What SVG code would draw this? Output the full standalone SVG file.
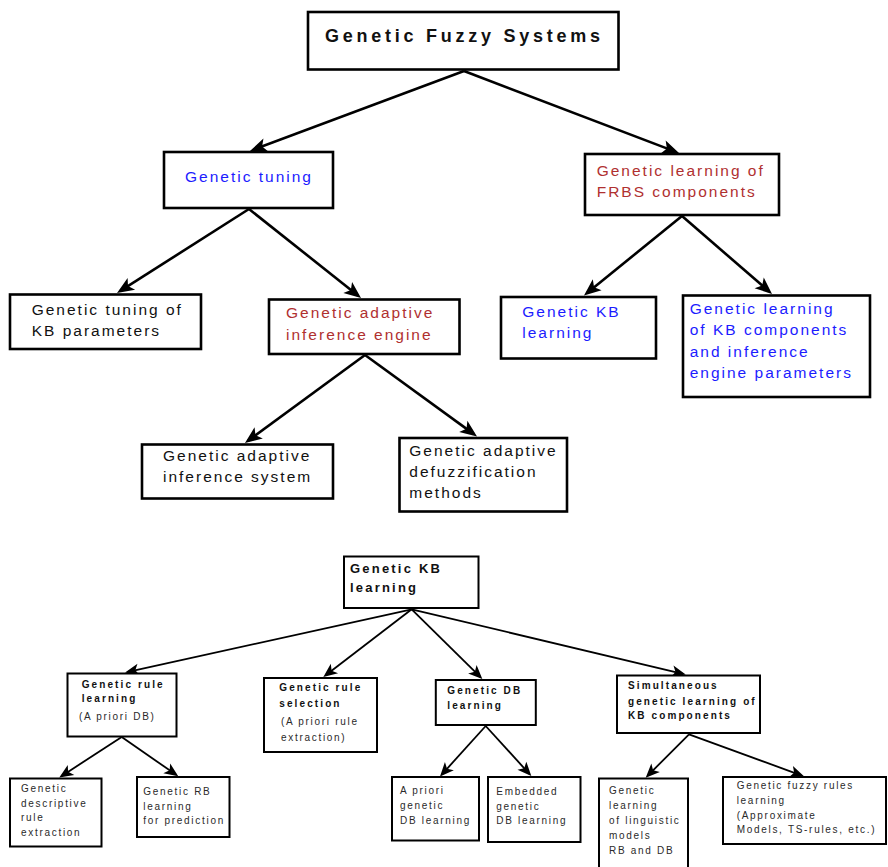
<svg xmlns="http://www.w3.org/2000/svg" width="888" height="867" viewBox="0 0 888 867">
<style>
text{font-family:"Liberation Sans",Arial,sans-serif;}
.bx{fill:#fff;stroke:#000;stroke-width:2.6;}
.bs{fill:#fff;stroke:#000;stroke-width:2;}
.t{font-size:15.5px;letter-spacing:2px;fill:#111;}
.blue{fill:#1c1cff;}
.red{fill:#b03030;}
.title{font-size:18px;font-weight:bold;letter-spacing:3.75px;fill:#111;}
.kb{font-size:13px;font-weight:bold;letter-spacing:2.2px;fill:#111;}
.sb{font-size:10px;font-weight:bold;letter-spacing:2.1px;fill:#111;}
.sn{font-size:10px;letter-spacing:1.7px;fill:#2a2a2a;}
.cb{fill:none;stroke:#000;stroke-width:2.6;marker-end:url(#ab);}
.cs{fill:none;stroke:#000;stroke-width:1.8;marker-end:url(#as);}
</style>
<defs>
<marker id="ab" markerUnits="userSpaceOnUse" viewBox="-16 -9 22 18" markerWidth="22" markerHeight="18" refX="0" refY="0" orient="auto">
<path d="M4,0 L-13,-7 L-9,0 L-13,7 Z" fill="#000"/>
</marker>
<marker id="as" markerUnits="userSpaceOnUse" viewBox="-14 -8 20 16" markerWidth="20" markerHeight="16" refX="0" refY="0" orient="auto">
<path d="M3,0 L-11,-6 L-7.5,0 L-11,6 Z" fill="#000"/>
</marker>
</defs>
<rect width="888" height="867" fill="#fff"/>
<g id="connectors">
<path class="cb" d="M464,71 L253.7,149.6"/>
<path class="cb" d="M464,71 L675.3,151.6"/>
<path class="cb" d="M249,209 L120.4,290.9"/>
<path class="cb" d="M249,209 L357.9,295.5"/>
<path class="cb" d="M365,355 L248.2,440.6"/>
<path class="cb" d="M365,355 L473.8,434.1"/>
<path class="cb" d="M682,216 L587.1,293"/>
<path class="cb" d="M682,216 L769,291.4"/>
<path class="cs" d="M411.7,609.3 L128,671.9"/>
<path class="cs" d="M411.7,609.3 L325.7,675.2"/>
<path class="cs" d="M411.7,609.3 L480.2,676.9"/>
<path class="cs" d="M411.7,609.3 L682.8,673.8"/>
<path class="cs" d="M121.7,737 L61.8,775.9"/>
<path class="cs" d="M121.7,737 L175.8,774.6"/>
<path class="cs" d="M485.7,726 L442,774.3"/>
<path class="cs" d="M485.7,726 L529.3,773.8"/>
<path class="cs" d="M689,734.3 L647.8,775.6"/>
<path class="cs" d="M689,734.3 L801.2,775.3"/>
</g>
<g id="gfs">
<rect class="bx" x="308" y="12" width="310.5" height="57.5"/>
<text class="title" x="325" y="42.3">Genetic Fuzzy Systems</text>
</g>
<g id="tuning">
<rect class="bx" x="164" y="152" width="169" height="56"/>
<text class="t blue" x="185" y="181.7">Genetic tuning</text>
</g>
<g id="frbs">
<rect class="bx" x="585" y="154" width="194" height="61"/>
<text class="t red" x="596.7" y="176">Genetic learning of</text>
<text class="t red" x="596.7" y="197.3">FRBS components</text>
</g>
<g id="tuningkb">
<rect class="bx" x="10" y="294.5" width="191" height="54.5"/>
<text class="t" x="31.7" y="315">Genetic tuning of</text>
<text class="t" x="31.7" y="336.3">KB parameters</text>
</g>
<g id="adaptive">
<rect class="bx" x="269" y="299.5" width="190.5" height="54.5"/>
<text class="t red" x="286" y="318.3">Genetic adaptive</text>
<text class="t red" x="286" y="340">inference engine</text>
</g>
<g id="kblearn">
<rect class="bx" x="501" y="297" width="155" height="61.5"/>
<text class="t blue" x="522.3" y="316.7">Genetic KB</text>
<text class="t blue" x="522.3" y="338.3">learning</text>
</g>
<g id="kbcomp">
<rect class="bx" x="683" y="295.5" width="187" height="101.5"/>
<text class="t blue" x="689.7" y="314">Genetic learning</text>
<text class="t blue" x="689.7" y="335.3">of KB components</text>
<text class="t blue" x="689.7" y="356.7">and inference</text>
<text class="t blue" x="689.7" y="377.7">engine parameters</text>
</g>
<g id="ais">
<rect class="bx" x="142" y="444.5" width="191" height="54"/>
<text class="t" x="163" y="460.7">Genetic adaptive</text>
<text class="t" x="163" y="481.7">inference system</text>
</g>
<g id="defuzz">
<rect class="bx" x="399.5" y="438" width="167.5" height="73.5"/>
<text class="t" x="409.3" y="455.7">Genetic adaptive</text>
<text class="t" x="409.3" y="477">defuzzification</text>
<text class="t" x="409.3" y="498.3">methods</text>
</g>
<g id="kb2">
<rect class="bs" x="344" y="556.5" width="134.5" height="51.5"/>
<text class="kb" x="350" y="573.3">Genetic KB</text>
<text class="kb" x="350" y="592">learning</text>
</g>
<g id="rulelearn">
<rect class="bs" x="67.5" y="673.5" width="109" height="63"/>
<text class="sb" x="81.7" y="688">Genetic rule</text>
<text class="sb" x="81.7" y="702">learning</text>
<text class="sn" x="79" y="720.3">(A priori DB)</text>
</g>
<g id="rulesel">
<rect class="bs" x="264" y="678" width="113" height="74"/>
<text class="sb" x="279.3" y="691.3">Genetic rule</text>
<text class="sb" x="279.3" y="707">selection</text>
<text class="sn" x="281" y="724.7">(A priori rule</text>
<text class="sn" x="281" y="741.3">extraction)</text>
</g>
<g id="dblearn">
<rect class="bs" x="435.8" y="680" width="100" height="45"/>
<text class="sb" x="447.3" y="694.3">Genetic DB</text>
<text class="sb" x="447.3" y="709.3">learning</text>
</g>
<g id="simul">
<rect class="bs" x="617" y="675.5" width="143" height="57.5"/>
<text class="sb" x="628" y="689.3">Simultaneous</text>
<text class="sb" x="628" y="704.7">genetic learning of</text>
<text class="sb" x="628" y="719.3">KB components</text>
</g>
<g id="descr">
<rect class="bs" x="10" y="778.5" width="91.5" height="68"/>
<text class="sn" x="21" y="792">Genetic</text>
<text class="sn" x="21" y="807">descriptive</text>
<text class="sn" x="21" y="821.3">rule</text>
<text class="sn" x="21" y="836.3">extraction</text>
</g>
<g id="rbpred">
<rect class="bs" x="137" y="777" width="92.5" height="60"/>
<text class="sn" x="143.3" y="794.7">Genetic RB</text>
<text class="sn" x="143.3" y="809.7">learning</text>
<text class="sn" x="143.3" y="824.3">for prediction</text>
</g>
<g id="apriori">
<rect class="bs" x="392" y="777" width="87" height="63.5"/>
<text class="sn" x="400" y="794">A priori</text>
<text class="sn" x="400" y="808.7">genetic</text>
<text class="sn" x="400" y="823.7">DB learning</text>
</g>
<g id="embedded">
<rect class="bs" x="488" y="777" width="92.5" height="65"/>
<text class="sn" x="496.3" y="795.3">Embedded</text>
<text class="sn" x="496.3" y="810.3">genetic</text>
<text class="sn" x="496.3" y="824.3">DB learning</text>
</g>
<g id="linguistic">
<rect class="bs" x="599" y="778.5" width="89" height="100"/>
<text class="sn" x="609" y="794.3">Genetic</text>
<text class="sn" x="609" y="809.3">learning</text>
<text class="sn" x="609" y="823.7">of linguistic</text>
<text class="sn" x="609" y="838.7">models</text>
<text class="sn" x="609" y="853.7">RB and DB</text>
</g>
<g id="fuzzyrules">
<rect class="bs" x="723" y="777" width="163" height="67"/>
<text class="sn" x="736.7" y="788.7">Genetic fuzzy rules</text>
<text class="sn" x="736.7" y="803.7">learning</text>
<text class="sn" x="736.7" y="818.7">(Approximate</text>
<text class="sn" x="736.7" y="833">Models, TS-rules, etc.)</text>
</g>
</svg>
